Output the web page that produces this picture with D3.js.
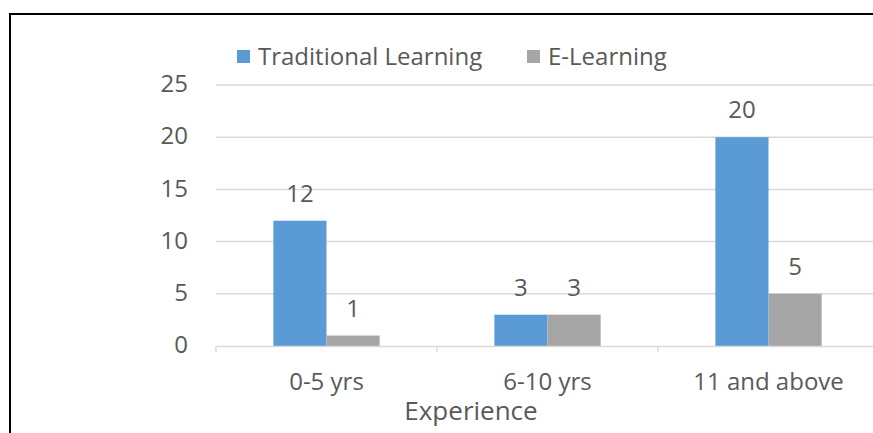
<!doctype html>
<html>
<head>
    <style>
        body {
            margin: 0;
            background: #fff;
        }

        svg {
            display: block;
        }

        text {
            font-family: 'Open Sans', sans-serif;
            fill: #595959;
            font-size: 24px;
        }

        text.axis-title {
            font-size: 26px;
        }

        .grid line {
            stroke: #d9d9d9;
            stroke-width: 1.5;
        }
    </style>
    <script src="https://d3js.org/d3.v7.min.js"></script>
</head>
<body>
<svg width="873" height="433"></svg>
<script>
    const categories = ['0-5 yrs', '6-10 yrs', '11 and above']
    const series = ['Traditional Learning', 'E-Learning']
    const traditional = [12, 3, 20]
    const eLearning = [1, 3, 5]
    const yTicks = [0, 5, 10, 15, 20, 25]
    const colors = ['#5b9bd5', '#a5a5a5']

    const values = [traditional, eLearning]

    const svg = d3.select('svg')

    // frame of the original figure
    svg.append('path')
        .attr('d', 'M10,440 L10,14 L880,14')
        .attr('fill', 'none')
        .attr('stroke', '#000')
        .attr('stroke-width', 2)

    const plot = { left: 216, right: 879, top: 85, bottom: 346 }

    const x0 = d3.scaleBand()
        .domain(categories)
        .range([plot.left, plot.right])

    const x1 = d3.scaleBand()
        .domain(series)
        .range([0, x0.bandwidth()])
        .paddingOuter(1.08)

    const y = d3.scaleLinear()
        .domain([0, 25])
        .range([plot.bottom, plot.top])

    // gridlines
    svg.append('g')
        .attr('class', 'grid')
        .selectAll('line')
        .data(yTicks.filter(d => d > 0))
        .enter()
        .append('line')
        .attr('x1', plot.left)
        .attr('x2', plot.right)
        .attr('y1', d => y(d))
        .attr('y2', d => y(d))

    // y tick labels
    svg.append('g')
        .selectAll('text')
        .data(yTicks)
        .enter()
        .append('text')
        .attr('x', 188)
        .attr('y', d => y(d))
        .attr('dy', '0.3em')
        .attr('text-anchor', 'end')
        .text(d => d)

    // bars
    const groups = svg.append('g')
        .selectAll('g')
        .data(categories)
        .enter()
        .append('g')
        .attr('transform', d => `translate(${x0(d)},0)`)

    series.forEach((s, si) => {
        groups.append('rect')
            .attr('x', x1(s))
            .attr('y', (d, i) => y(values[si][i]))
            .attr('width', x1.bandwidth())
            .attr('height', (d, i) => y(0) - y(values[si][i]))
            .attr('fill', colors[si])

        groups.append('text')
            .attr('x', x1(s) + x1.bandwidth() / 2)
            .attr('y', (d, i) => y(values[si][i]) - 19)
            .attr('text-anchor', 'middle')
            .text((d, i) => values[si][i])
    })

    // x axis baseline and ticks
    const xAxis = svg.append('g')
        .attr('transform', `translate(0,${plot.bottom})`)
        .call(d3.axisBottom(x0).tickSize(0).tickFormat(''))
    xAxis.select('.domain')
        .attr('stroke', '#d9d9d9')
        .attr('stroke-width', 1.5)

    xAxis.selectAll('.sep')
        .data(categories)
        .enter()
        .append('line')
        .attr('class', 'sep')
        .attr('x1', d => x0(d))
        .attr('x2', d => x0(d))
        .attr('y1', 0)
        .attr('y2', 6)
        .attr('stroke', '#d9d9d9')
        .attr('stroke-width', 1.5)

    svg.append('g')
        .selectAll('text')
        .data(categories)
        .enter()
        .append('text')
        .attr('x', d => x0(d) + x0.bandwidth() / 2)
        .attr('y', 390)
        .attr('text-anchor', 'middle')
        .text(d => d)

    svg.append('text')
        .attr('class', 'axis-title')
        .attr('x', 471)
        .attr('y', 420)
        .attr('text-anchor', 'middle')
        .text('Experience')

    // legend
    const legendX = [237, 527]
    const legend = svg.append('g')
        .selectAll('g')
        .data(series)
        .enter()
        .append('g')
        .attr('transform', (d, i) => `translate(${legendX[i]},50)`)

    legend.append('rect')
        .attr('width', 13)
        .attr('height', 13)
        .attr('fill', (d, i) => colors[i])

    legend.append('text')
        .attr('x', 21)
        .attr('y', 15)
        .text(d => d)
</script>
</body>
</html>
